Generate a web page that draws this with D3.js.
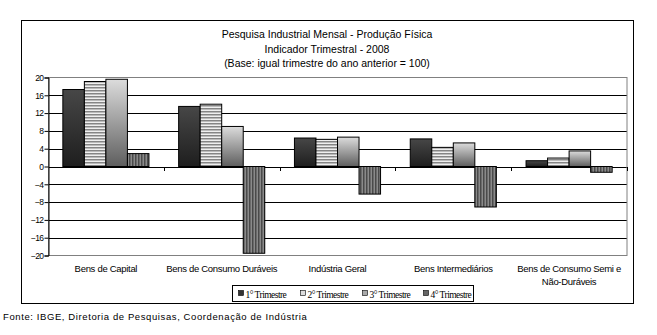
<!DOCTYPE html>
<html><head><meta charset="utf-8">
<script src="https://cdn.jsdelivr.net/npm/d3@7"></script>
<style>body{margin:0;background:#fff}svg{display:block}</style>
</head><body>
<svg id="c" width="657" height="335"></svg>
<script>
const categories = ["Bens de Capital","Bens de Consumo Duráveis","Indústria Geral","Bens Intermediários","Bens de Consumo Semi e|Não-Duráveis"];
const seriesNames = ["1° Trimestre","2° Trimestre","3° Trimestre","4° Trimestre"];
const q1 = [17.3, 13.5, 6.4, 6.2, 1.3];
const q2 = [19.1, 14.0, 6.1, 4.3, 1.9];
const q3 = [19.6, 9.0, 6.6, 5.3, 3.5];
const q4 = [2.9, -19.5, -6.2, -9.1, -1.3];
const yTicks = [20,16,12,8,4,0,-4,-8,-12,-16,-20];
const titleLines = ["Pesquisa Industrial Mensal - Produção Física","Indicador Trimestral - 2008","(Base: igual trimestre do ano anterior = 100)"];
const source = "Fonte: IBGE, Diretoria de Pesquisas, Coordenação de Indústria";

const series = [q1,q2,q3,q4];
const svg = d3.select("#c");
const defs = svg.append("defs");

// fills
const g1 = defs.append("linearGradient").attr("id","f0").attr("x1",0).attr("y1",0).attr("x2",0).attr("y2",1);
g1.append("stop").attr("offset","0%").attr("stop-color","#474747");
g1.append("stop").attr("offset","100%").attr("stop-color","#1e1e1e");
const p2 = defs.append("pattern").attr("id","f1").attr("patternUnits","userSpaceOnUse").attr("width",4).attr("height",3);
p2.append("rect").attr("width",4).attr("height",3).attr("fill","#efefef");
p2.append("rect").attr("width",4).attr("height",1.5).attr("fill","#858585");
const g3 = defs.append("linearGradient").attr("id","f2").attr("x1",0).attr("y1",0).attr("x2",0).attr("y2",1);
g3.append("stop").attr("offset","0%").attr("stop-color","#dcdcdc");
g3.append("stop").attr("offset","100%").attr("stop-color","#5e5e5e");
const p4 = defs.append("pattern").attr("id","f3").attr("patternUnits","userSpaceOnUse").attr("width",3).attr("height",4);
p4.append("rect").attr("width",3).attr("height",4).attr("fill","#8a8a8a");
p4.append("rect").attr("width",1.5).attr("height",4).attr("fill","#4a4a4a");

// outer box
svg.append("rect").attr("x",21.5).attr("y",20.5).attr("width",612).attr("height",283)
  .attr("fill","none").attr("stroke","#000");

// title
svg.append("g").selectAll("text").data(titleLines).join("text")
  .attr("x",327).attr("y",(d,i)=>38+i*14.5).attr("text-anchor","middle")
  .attr("font-family","Liberation Sans, Arial, sans-serif").attr("font-size",10.5).attr("fill","#000")
  .text(d=>d);

const L=48, R=627, T=77.5, B=255.5;
const x = d3.scaleBand().domain(categories).range([L,R]).paddingInner(0).paddingOuter(0);
const inner = d3.scaleBand().domain(d3.range(4)).range([0,x.bandwidth()]).paddingInner(0).paddingOuter(0.69);
const y = d3.scaleLinear().domain([-20,20]).range([B,T]);

// grid lines
svg.append("g").selectAll("line").data(yTicks.filter(v=>v!==20 && v!==-20)).join("line")
  .attr("x1",L).attr("x2",R).attr("y1",d=>Math.round(y(d))+0.5).attr("y2",d=>Math.round(y(d))+0.5)
  .attr("stroke","#000").attr("stroke-width",1);
// plot border (gray)
svg.append("rect").attr("x",L+0.5).attr("y",T).attr("width",R-L-0.5).attr("height",B-T)
  .attr("fill","none").attr("stroke","#808080");

// bars
const gb = svg.append("g");
series.forEach((s,si)=>{
  gb.selectAll(".b"+si).data(s).join("rect")
    .attr("x",(d,i)=>x(categories[i])+inner(si))
    .attr("width",inner.bandwidth())
    .attr("y",d=>Math.min(y(d),y(0)))
    .attr("height",d=>Math.abs(y(d)-y(0)))
    .attr("fill","url(#f"+si+")").attr("stroke","#000").attr("stroke-width",1);
});

// y axis
const ax = svg.append("g").attr("transform",`translate(${L+0.5},0)`)
  .call(d3.axisLeft(y).tickValues(yTicks).tickSize(4).tickFormat(d3.format("d")));
ax.select(".domain").attr("stroke","#000");
ax.selectAll(".tick line").attr("stroke","#000");
ax.selectAll(".tick text").attr("font-family","Liberation Sans, Arial, sans-serif").attr("font-size",8.5)
  .attr("letter-spacing","-0.6").attr("x",-5).attr("fill","#000");

// category ticks on zero line
const bounds = categories.map(c=>x(c)).slice(1).concat([R]);
svg.append("g").selectAll("line").data(bounds).join("line")
  .attr("x1",d=>Math.round(d)+0.5).attr("x2",d=>Math.round(d)+0.5)
  .attr("y1",Math.round(y(0))).attr("y2",Math.round(y(0))+4).attr("stroke","#000");

// category labels
const cl = svg.append("g").selectAll("text").data(categories).join("text")
  .attr("x",d=>x(d)+x.bandwidth()/2).attr("y",272).attr("text-anchor","middle")
  .attr("font-family","Liberation Sans, Arial, sans-serif").attr("font-size",9.5).attr("letter-spacing","-0.3").attr("fill","#000");
cl.each(function(d){
  const parts=d.split("|");
  d3.select(this).selectAll("tspan").data(parts).join("tspan")
    .attr("x",x(d)+x.bandwidth()/2).attr("dy",(p,i)=>i?13:0).text(p=>p);
});

// legend
const lg = svg.append("g");
lg.append("rect").attr("x",232.5).attr("y",285.5).attr("width",241).attr("height",16).attr("fill","#fff").attr("stroke","#000");
const lx = [238, 300, 362, 423];
const items = lg.selectAll("g").data(seriesNames).join("g").attr("transform",(d,i)=>`translate(${lx[i]},0)`);
items.append("rect").attr("x",0.5).attr("y",290.5).attr("width",5).attr("height",5)
  .attr("fill",(d,i)=>["#333","#ddd","#aaa","#666"][i]).attr("stroke","#000").attr("stroke-width",0.6);
items.append("text").attr("x",7.5).attr("y",297.5)
  .attr("font-family","Liberation Serif, Times New Roman, serif").attr("font-size",9.5).attr("letter-spacing","-0.55").attr("fill","#000")
  .text(d=>d);

// source
svg.append("text").attr("x",3).attr("y",320)
  .attr("font-family","Liberation Sans, Arial, sans-serif").attr("font-size",9.5).attr("letter-spacing","0.6").attr("fill","#000")
  .text(source);
</script>
</body></html>
